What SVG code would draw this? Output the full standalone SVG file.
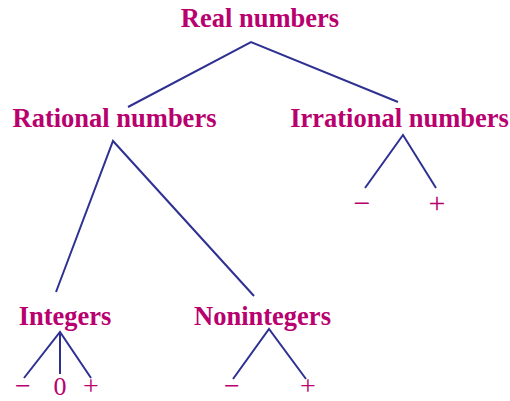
<svg xmlns="http://www.w3.org/2000/svg" width="510" height="401" viewBox="0 0 510 401">
<style>
.lbl{font-family:"Liberation Serif","Times New Roman",serif;font-weight:bold;font-size:26.5px;fill:#B8006E;text-anchor:middle}
.sym{font-family:"Liberation Serif","Times New Roman",serif;font-size:30px;fill:#B8006E;text-anchor:middle}
.bot{font-size:28px}
.zero{font-family:"Liberation Serif","Times New Roman",serif;font-size:26px;fill:#B8006E;text-anchor:middle}
.ln{stroke:#2E3192;stroke-width:2;fill:none}
</style>
<rect width="510" height="401" fill="#fff"/>
<g id="connectors">
<polyline class="ln" points="128,107 251,42 398,102"/>
<polyline class="ln" points="56,292 113,141 254,296"/>
<polyline class="ln" points="365,188 403,135 436,188"/>
<polyline class="ln" points="24,378 60,332 91,378"/>
<line class="ln" x1="60" y1="332" x2="60" y2="374"/>
<polyline class="ln" points="233,379 269,329 306,379"/>
</g>
<g id="real"><text class="lbl" x="260" y="27">Real numbers</text></g>
<g id="rational"><text class="lbl" x="114.5" y="127">Rational numbers</text></g>
<g id="irrational"><text class="lbl" x="399.5" y="127">Irrational numbers</text></g>
<g id="integers"><text class="lbl" x="65" y="325">Integers</text></g>
<g id="nonintegers"><text class="lbl" x="262.5" y="325">Nonintegers</text></g>
<g id="irr-neg"><text class="sym" x="362" y="213">−</text></g>
<g id="irr-pos"><text class="sym" x="437" y="213">+</text></g>
<g id="int-neg"><text class="sym bot" x="23" y="394.5">−</text></g>
<g id="int-zero"><text class="zero" x="60" y="395">0</text></g>
<g id="int-pos"><text class="sym bot" x="91" y="394.5">+</text></g>
<g id="nonint-neg"><text class="sym bot" x="232" y="394.5">−</text></g>
<g id="nonint-pos"><text class="sym bot" x="308" y="394.5">+</text></g>
</svg>
